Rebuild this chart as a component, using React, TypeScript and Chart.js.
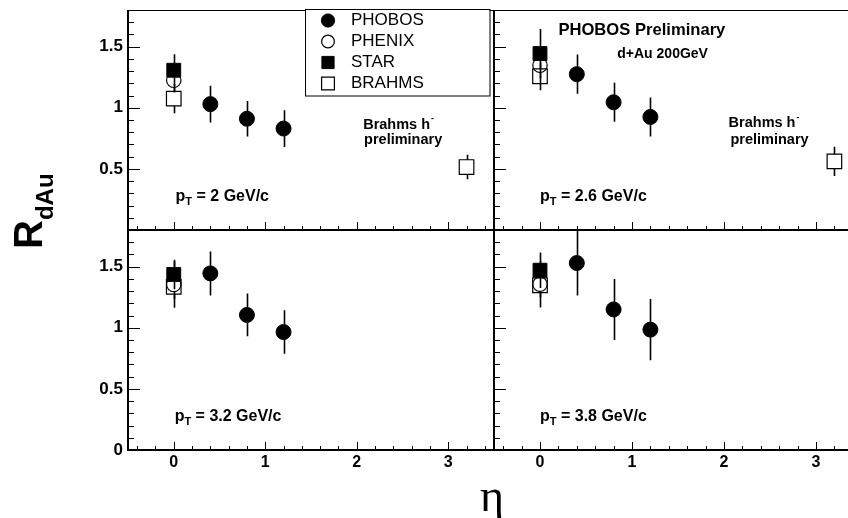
import React, { useEffect, useRef } from 'react';
import { Chart, registerables } from 'chart.js';

Chart.register(...registerables);

// ---------- data ----------
const seriesNames = ['PHOBOS', 'PHENIX', 'STAR', 'BRAHMS'];
const panelPt = ['2', '2.6', '3.2', '3.8'];

const phobosEta = [0.4, 0.8, 1.2];
const phobosR = [
  [1.03, 0.91, 0.83],
  [1.275, 1.045, 0.925],
  [1.445, 1.105, 0.965],
  [1.53, 1.15, 0.985],
];
const phobosErr = [
  [0.15, 0.145, 0.15],
  [0.16, 0.16, 0.16],
  [0.18, 0.175, 0.178],
  [0.265, 0.25, 0.25],
];

const phenixEta = [0];
const phenixR = [1.225, 1.348, 1.354, 1.356];
const phenixErr = [0.1, 0.15, 0.19, 0.19];

const starEta = [0];
const starR = [1.307, 1.444, 1.436, 1.471];
const starErr = [0.13, 0.2, 0.12, 0.145];

const brahmsEta = [[0, 3.2], [0, 3.2], [0], [0]];
const brahmsR = [[1.075, 0.515], [1.258, 0.561], [1.335], [1.348]];
const brahmsErr = [[0.12, 0.1], [0.115, 0.12], [0.1], [0.1]];

const xTickValues = [0, 1, 2, 3];
const yTickValuesTop = [0.5, 1, 1.5];
const yTickValuesBottom = [0, 0.5, 1, 1.5];

// ---------- layout ----------
const W = 870;
const H = 518;
const FONT = '"Liberation Sans", Arial, Helvetica, sans-serif';

const PANELS = [
  { l: 128, r: 494, t: 10, b: 230, showX: false, showY: true, yTicks: yTickValuesTop, topLine: true },
  { l: 494, r: 862, t: 10, b: 230, showX: false, showY: false, yTicks: yTickValuesTop, topLine: true },
  { l: 128, r: 494, t: 230, b: 450, showX: true, showY: true, yTicks: yTickValuesBottom, topLine: false },
  { l: 494, r: 862, t: 230, b: 450, showX: true, showY: false, yTicks: yTickValuesBottom, topLine: false },
];

const PANEL_TEXTS: any[][] = [
  [
    { kind: 'pt', x: 0.02, y: 0.236 },
    { kind: 'text', x: 2.07, y: 0.83, text: 'Brahms h', sup: '-', size: 14.5 },
    { kind: 'text', x: 2.08, y: 0.706, text: 'preliminary', size: 14.5 },
  ],
  [
    { kind: 'pt', x: 0.0, y: 0.24 },
    { kind: 'text', x: 0.2, y: 1.594, text: 'PHOBOS Preliminary', size: 16.6 },
    { kind: 'text', x: 0.84, y: 1.41, text: 'd+Au 200GeV', size: 14 },
    { kind: 'text', x: 2.05, y: 0.84, text: 'Brahms h', sup: '-', size: 14.5 },
    { kind: 'text', x: 2.07, y: 0.707, text: 'preliminary', size: 14.5 },
  ],
  [{ kind: 'pt', x: 0.01, y: 0.24 }],
  [{ kind: 'pt', x: 0.0, y: 0.24 }],
];

function drawMarker(ctx: CanvasRenderingContext2D, style: string, x: number, y: number, r: number, fill: string, lw: number) {
  ctx.beginPath();
  if (style === 'circle') {
    ctx.arc(x, y, r, 0, Math.PI * 2);
  } else {
    const s = r * Math.SQRT1_2;
    ctx.rect(x - s, y - s, 2 * s, 2 * s);
  }
  if (fill !== 'transparent') {
    ctx.fillStyle = fill;
    ctx.fill();
  }
  ctx.lineWidth = lw;
  ctx.strokeStyle = '#000';
  ctx.stroke();
}

const rootPanelPlugin = {
  id: 'rootPanel',
  beforeDatasetsDraw(chart: any) {
    const { ctx } = chart;
    const xs = chart.scales.x;
    const ys = chart.scales.y;
    ctx.save();
    ctx.strokeStyle = '#000';
    ctx.lineWidth = 1.6;
    chart.data.datasets.forEach((ds: any) => {
      const half = ds.markerHalf;
      ds.data.forEach((p: any, i: number) => {
        const e = ds.errors[i];
        const px = Math.round(xs.getPixelForValue(p.x)) + 0.5;
        const py = ys.getPixelForValue(p.y);
        const yt = ys.getPixelForValue(p.y + e);
        const yb = ys.getPixelForValue(p.y - e);
        ctx.beginPath();
        if (yt < py - half) { ctx.moveTo(px, yt); ctx.lineTo(px, py - half); }
        if (yb > py + half) { ctx.moveTo(px, py + half); ctx.lineTo(px, yb); }
        ctx.stroke();
      });
    });
    ctx.restore();
  },
  afterDraw(chart: any, _args: any, opts: any) {
    const { ctx, chartArea } = chart;
    const xs = chart.scales.x;
    const ys = chart.scales.y;
    const { left, right, top, bottom } = chartArea;
    ctx.save();
    ctx.strokeStyle = '#000';
    // x ticks (inward, upward)
    ctx.lineWidth = 1;
    for (let k = -2; k <= 17; k++) {
      const v = k * 0.2;
      if (v < xs.min - 1e-9 || v > xs.max + 1e-9) continue;
      const major = Math.abs(v - Math.round(v)) < 1e-6;
      const len = major ? 8 : 4;
      const px = Math.round(xs.getPixelForValue(v)) + 0.5;
      ctx.beginPath();
      ctx.moveTo(px, bottom);
      ctx.lineTo(px, bottom - len);
      ctx.stroke();
    }
    // y ticks (inward, rightward)
    for (let k = 1; k <= 17; k++) {
      const v = k * 0.1;
      const major = k % 5 === 0;
      const len = major ? 12 : 6;
      const py = Math.round(ys.getPixelForValue(v)) + 0.5;
      ctx.beginPath();
      ctx.moveTo(left, py);
      ctx.lineTo(left + len, py);
      ctx.stroke();
    }
    // axes
    ctx.lineWidth = 2;
    ctx.beginPath();
    ctx.moveTo(left, top);
    ctx.lineTo(left, bottom + 1);
    ctx.moveTo(left - 1, bottom);
    ctx.lineTo(right, bottom);
    ctx.stroke();
    if (opts.topLine) {
      ctx.lineWidth = 1;
      ctx.beginPath();
      ctx.moveTo(left, top + 0.5);
      ctx.lineTo(right, top + 0.5);
      ctx.stroke();
    }

    // texts
    ctx.fillStyle = '#000';
    ctx.textAlign = 'left';
    ctx.textBaseline = 'alphabetic';
    (opts.texts || []).forEach((t: any) => {
      const x = xs.getPixelForValue(t.x);
      const y = ys.getPixelForValue(t.y);
      if (t.kind === 'pt') {
        ctx.font = `bold 16px ${FONT}`;
        ctx.fillText('p', x, y);
        let w = ctx.measureText('p').width;
        ctx.font = `bold 11px ${FONT}`;
        ctx.fillText('T', x + w, y + 4);
        w += ctx.measureText('T').width;
        ctx.font = `bold 16px ${FONT}`;
        ctx.fillText(` = ${opts.pt} GeV/c`, x + w, y);
      } else {
        ctx.font = `bold ${t.size}px ${FONT}`;
        ctx.fillText(t.text, x, y);
        if (t.sup) {
          const w = ctx.measureText(t.text).width;
          ctx.font = `bold ${t.size * 0.6}px ${FONT}`;
          ctx.fillText(t.sup, x + w + 1, y - t.size * 0.5);
        }
      }
    });

    // legend
    if (opts.legend) {
      const bx0 = right - 189;
      const bx1 = right - 4.5;
      const by0 = top - 1;
      const by1 = top + 85.5;
      ctx.lineWidth = 1;
      ctx.strokeStyle = '#000';
      ctx.fillStyle = '#fff';
      ctx.fillRect(bx0, by0, bx1 - bx0, by1 - by0);
      ctx.strokeRect(Math.round(bx0) + 0.5, by0 + 0.5, bx1 - bx0, by1 - by0);
      chart.data.datasets
        .slice()
        .sort((a: any, b: any) => a.legendIndex - b.legendIndex)
        .forEach((ds: any, i: number) => {
          const cy = by0 + 11.5 + 21 * i;
          const cx = bx0 + 23;
          drawMarker(ctx, ds.pointStyle, cx, cy, ds.pointRadius * 0.88, ds.backgroundColor === 'rgba(0,0,0,0)' ? 'transparent' : '#000', ds.borderWidth);
          ctx.fillStyle = '#000';
          ctx.font = `17px ${FONT}`;
          ctx.textBaseline = 'middle';
          ctx.fillText(ds.label, bx0 + 46, cy);
        });
      ctx.textBaseline = 'alphabetic';
    }

    // y title R_dAu
    if (opts.yTitle) {
      ctx.save();
      ctx.translate(42, 249);
      ctx.rotate(-Math.PI / 2);
      ctx.fillStyle = '#000';
      ctx.textAlign = 'left';
      ctx.textBaseline = 'alphabetic';
      ctx.font = `bold 40px ${FONT}`;
      ctx.fillText('R', 0, 0);
      const w = ctx.measureText('R').width;
      ctx.font = `bold 24px ${FONT}`;
      ctx.fillText('dAu', w, 11);
      ctx.restore();
    }

    // x title eta
    if (opts.xTitle) {
      ctx.fillStyle = '#000';
      ctx.textAlign = 'center';
      ctx.textBaseline = 'alphabetic';
      ctx.font = `46px "Liberation Serif", "Times New Roman", serif`;
      ctx.fillText('η', right - 2, bottom + 61);
    }
    ctx.restore();
  },
};

function makeConfig(i: number): any {
  const p = PANELS[i];
  const datasets = [
    {
      label: seriesNames[0], legendIndex: 0, order: 4,
      data: phobosEta.map((x, k) => ({ x, y: phobosR[i][k] })),
      errors: phobosErr[i],
      pointStyle: 'circle', pointRadius: 7.5, pointHoverRadius: 7.5,
      backgroundColor: '#000', borderColor: '#000', borderWidth: 1, markerHalf: 7.5,
    },
    {
      label: seriesNames[1], legendIndex: 1, order: 3,
      data: phenixEta.map((x) => ({ x, y: phenixR[i] })),
      errors: [phenixErr[i]],
      pointStyle: 'circle', pointRadius: 7.2, pointHoverRadius: 7.2,
      backgroundColor: 'rgba(0,0,0,0)', borderColor: '#000', borderWidth: 1.2, markerHalf: 7.2,
    },
    {
      label: seriesNames[2], legendIndex: 2, order: 2,
      data: starEta.map((x) => ({ x, y: starR[i] })),
      errors: [starErr[i]],
      pointStyle: 'rect', pointRadius: 9.8, pointHoverRadius: 9.8,
      backgroundColor: '#000', borderColor: '#000', borderWidth: 1, markerHalf: 6.9,
    },
    {
      label: seriesNames[3], legendIndex: 3, order: 1,
      data: brahmsEta[i].map((x, k) => ({ x, y: brahmsR[i][k] })),
      errors: brahmsErr[i],
      pointStyle: 'rect', pointRadius: 10.3, pointHoverRadius: 10.3,
      backgroundColor: 'rgba(0,0,0,0)', borderColor: '#000', borderWidth: 1.2, markerHalf: 7.3,
    },
  ];
  const zeroPad = (s: any) => {
    s.paddingTop = 0; s.paddingBottom = 0; s.paddingLeft = 0; s.paddingRight = 0;
  };
  return {
    type: 'scatter',
    data: { datasets },
    options: {
      animation: false,
      responsive: false,
      events: [],
      layout: { autoPadding: false, padding: { left: 0, top: p.t, right: W - p.r, bottom: 0 } },
      plugins: {
        legend: { display: false },
        tooltip: { enabled: false },
        rootPanel: {
          topLine: p.topLine,
          texts: PANEL_TEXTS[i],
          pt: panelPt[i],
          legend: i === 0,
          yTitle: i === 0,
          xTitle: i === 2,
        },
      },
      scales: {
        x: {
          type: 'linear', min: -0.5, max: 3.5,
          grid: { display: false, drawTicks: false },
          border: { display: false },
          ticks: {
            display: p.showX, color: '#000', padding: 3, autoSkip: false, maxRotation: 0,
            font: { family: FONT, size: 16, weight: 'bold' },
            callback: (v: any) => String(v),
          },
          afterBuildTicks: (s: any) => { s.ticks = xTickValues.map((v) => ({ value: v })); },
          afterFit: (s: any) => { s.height = H - p.b; zeroPad(s); },
        },
        y: {
          type: 'linear', min: 0, max: 1.8,
          grid: { display: false, drawTicks: false },
          border: { display: false },
          ticks: {
            display: p.showY, color: '#000', padding: 5, autoSkip: false,
            font: { family: FONT, size: 17, weight: 'bold' },
            callback: (v: any) => String(v),
          },
          afterBuildTicks: (s: any) => { s.ticks = p.yTicks.map((v) => ({ value: v })); },
          afterFit: (s: any) => { s.width = p.l; zeroPad(s); },
        },
      },
    },
    plugins: [rootPanelPlugin],
  };
}

export default function App() {
  const canvasRefs = useRef<(HTMLCanvasElement | null)[]>([]);
  useEffect(() => {
    const charts = PANELS.map((_, i) => new Chart(canvasRefs.current[i] as HTMLCanvasElement, makeConfig(i)));
    return () => charts.forEach((c) => c.destroy());
  }, []);
  return (
    <div style={{ position: 'fixed', left: 0, top: 0, width: 848, height: 518, overflow: 'hidden', background: '#fff' }}>
      {PANELS.map((_, i) => (
        <canvas
          key={i}
          ref={(el) => { canvasRefs.current[i] = el; }}
          width={W}
          height={H}
          style={{ position: 'absolute', left: 0, top: 0, width: W, height: H }}
        />
      ))}
    </div>
  );
}
